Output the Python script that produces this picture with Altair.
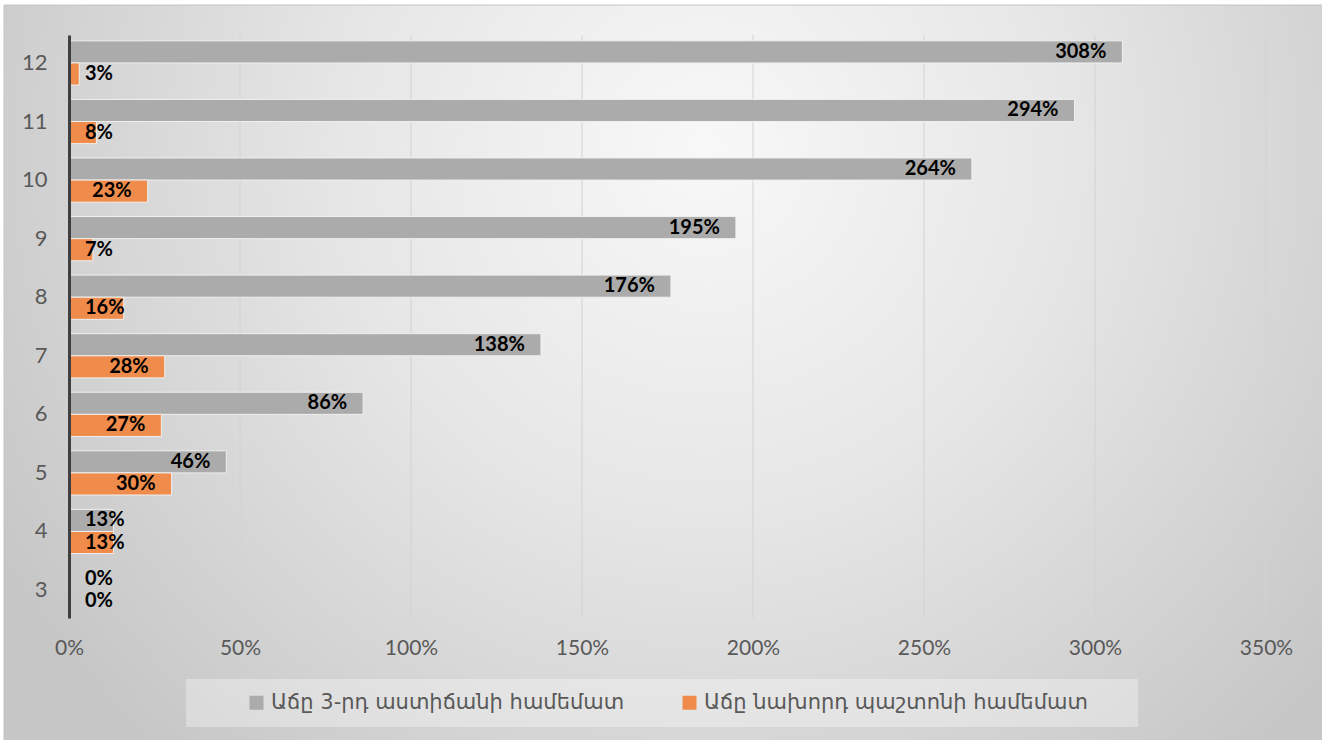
import altair as alt
import pandas as pd

# Grade steps and the two growth series (percent)
categories = ["3", "4", "5", "6", "7", "8", "9", "10", "11", "12"]
growth_vs_grade3 = [0, 13, 46, 86, 138, 176, 195, 264, 294, 308]
growth_vs_prev = [0, 13, 30, 27, 28, 16, 7, 23, 8, 3]
series_names = ["Աճը 3-րդ աստիճանի համեմատ", "Աճը նախորդ պաշտոնի համեմատ"]
series_colors = ["#ababab", "#ef8c4b"]
x_ticks = [0, 50, 100, 150, 200, 250, 300, 350]

# Plot geometry
W, H = 1197, 583
PAD = {"left": 69, "top": 35, "right": 56, "bottom": 122}
X_MAX = 350
PX_PER_UNIT = W / X_MAX
LABEL_GAP = 16
DIGIT_W, PCT_W = 11.6, 17

rows = []
for name, vals in zip(series_names, [growth_vs_grade3, growth_vs_prev]):
    for cat, v in zip(categories, vals):
        est_w = DIGIT_W * len(str(v)) + PCT_W
        rows.append({
            "cat": cat,
            "series": name,
            "value": v,
            "label": f"{v}%",
            "fits": bool(v * PX_PER_UNIT >= est_w + 2 * LABEL_GAP),
        })
df = pd.DataFrame(rows)
grid_df = pd.DataFrame({"value": x_ticks})
one = pd.DataFrame({"k": [0]})

x_scale = alt.Scale(domain=[0, X_MAX], nice=False, zero=True)
x_axis = alt.Axis(
    values=x_ticks, labelExpr="datum.value + '%'", grid=False,
    domain=False, ticks=False, labelFont="Lato", labelFontSize=21,
    labelColor="#595959", labelPadding=19, labelFlush=False, zindex=1, title=None,
)
y_enc = alt.Y(
    "cat:N",
    sort=categories[::-1],
    scale=alt.Scale(paddingInner=0.245, paddingOuter=0.1),
    axis=alt.Axis(
        title=None, ticks=False, domainColor="#3f3f3f", domainWidth=3,
        labelFont="Lato", labelFontSize=22, labelColor="#595959",
        labelPadding=22, zindex=1,
    ),
)
y_off = alt.YOffset("series:N", sort=series_names,
                    scale=alt.Scale(domain=series_names, paddingInner=0, paddingOuter=0))

# Chart area with soft radial shading
background = alt.Chart(one).mark_rect(
    fill=alt.RadialGradient(
        gradient="radial",
        stops=[
            alt.GradientStop(color="#f8f8f8", offset=0),
            alt.GradientStop(color="#e6e6e6", offset=0.45),
            alt.GradientStop(color="#c6c6c6", offset=1),
        ],
        x1=0.53, y1=0.33, r1=0, x2=0.53, y2=0.33, r2=0.62,
    ),
    stroke="#c4c4c4", strokeWidth=1,
).encode(
    x=alt.value(-65), x2=alt.value(W + PAD["right"] + 5),
    y=alt.value(-30), y2=alt.value(H + PAD["bottom"] + 5),
)

legend_box = alt.Chart(one).mark_rect(fill="#ffffff", opacity=0.32).encode(
    x=alt.value(186 - PAD["left"]), x2=alt.value(1138 - PAD["left"]),
    y=alt.value(679 - PAD["top"]), y2=alt.value(727 - PAD["top"]),
)

# Vertical gridlines at each tick
grid = alt.Chart(grid_df).mark_rule(color="#d2d2d2", strokeWidth=1).encode(
    x=alt.X("value:Q", scale=x_scale, axis=x_axis, title=None),
)

base = alt.Chart(df).encode(y=y_enc, yOffset=y_off)

bars = base.mark_bar(stroke="#f0f0f0", strokeWidth=1).encode(
    x=alt.X("value:Q", scale=x_scale, axis=x_axis, title=None),
    color=alt.Color(
        "series:N",
        scale=alt.Scale(domain=series_names, range=series_colors),
        legend=alt.Legend(
            title=None, orient="none", direction="horizontal",
            legendX=246 - PAD["left"], legendY=703 - PAD["top"] - 11,
            symbolType="square", symbolSize=196, symbolStrokeWidth=0,
            labelFont="DejaVu Sans", labelFontSize=21, labelColor="#595959",
            labelLimit=600, columnPadding=54, labelOffset=4,
        ),
    ),
)

label_style = dict(font="Lato", fontWeight="bold", fontSize=20, color="#000000", baseline="middle")

labels_inside = base.transform_filter("datum.fits").mark_text(
    align="right", dx=-LABEL_GAP, **label_style
).encode(x=alt.X("value:Q", scale=x_scale, axis=x_axis, title=None), text="label:N")

labels_outside = base.transform_filter("!datum.fits").mark_text(
    align="left", dx=LABEL_GAP, **label_style
).encode(x=alt.datum(0, scale=x_scale), text="label:N")

chart = alt.layer(
    background, legend_box, grid, bars, labels_inside, labels_outside
).properties(
    width=W, height=H,
    autosize=alt.AutoSizeParams(type="none"),
    padding=PAD,
    background="#ffffff",
).configure_view(stroke=None)

chart.save("out.html", embed_options={"renderer": "svg", "actions": False})
